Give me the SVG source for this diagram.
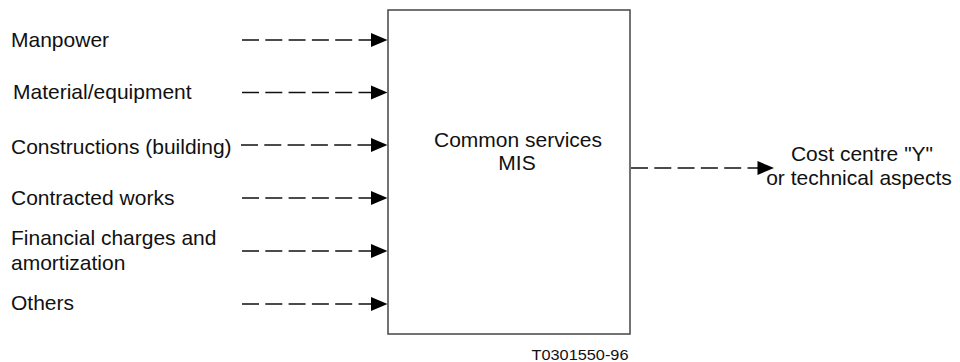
<svg xmlns="http://www.w3.org/2000/svg" width="960" height="362" viewBox="0 0 960 362">
<style>
text{font-family:"Liberation Sans",Arial,sans-serif;font-size:21px;fill:#111}
.c{text-anchor:middle}
.box{fill:#fff;stroke:#444;stroke-width:1.5}
.dash{stroke:#111;stroke-width:1.3;stroke-dasharray:17 6.3;fill:none}
.head{fill:#000}
</style>
<rect width="960" height="362" fill="#fff"/>
<g id="node-mis">
<rect class="box" x="388" y="10" width="242" height="324"/>
<text class="c" x="518" y="146.5">Common services</text>
<text class="c" x="517" y="170">MIS</text>
</g>
<g id="node-manpower"><text x="11" y="47">Manpower</text></g>
<g id="node-material"><text x="13" y="98.5">Material/equipment</text></g>
<g id="node-constructions"><text x="11" y="153.5">Constructions (building)</text></g>
<g id="node-contracted"><text x="11" y="205">Contracted works</text></g>
<g id="node-financial"><text x="11" y="245">Financial charges and</text><text x="11" y="270">amortization</text></g>
<g id="node-others"><text x="11" y="310">Others</text></g>
<g id="node-cost"><text class="c" x="862" y="160.5">Cost centre "Y"</text><text class="c" x="859" y="185">or technical aspects</text></g>
<g id="connectors">
<line class="dash" x1="242" y1="40" x2="373" y2="40"/>
<polygon class="head" points="371,33 387.5,40 371,47"/>
<line class="dash" x1="242" y1="92.5" x2="373" y2="92.5"/>
<polygon class="head" points="371,85.5 387.5,92.5 371,99.5"/>
<line class="dash" x1="241" y1="145" x2="373" y2="145"/>
<polygon class="head" points="371,138 387.5,145 371,152"/>
<line class="dash" x1="242" y1="198" x2="373" y2="198"/>
<polygon class="head" points="371,191 387.5,198 371,205"/>
<line class="dash" x1="242" y1="251" x2="373" y2="251"/>
<polygon class="head" points="371,244 387.5,251 371,258"/>
<line class="dash" x1="242" y1="304" x2="373" y2="304"/>
<polygon class="head" points="371,297 387.5,304 371,311"/>
<line class="dash" x1="631" y1="168" x2="759" y2="168"/>
<polygon class="head" points="757.5,161 774,168 757.5,175"/>
</g>
<text x="531.5" y="360" style="font-size:15px" textLength="97" lengthAdjust="spacingAndGlyphs">T0301550-96</text>
</svg>
